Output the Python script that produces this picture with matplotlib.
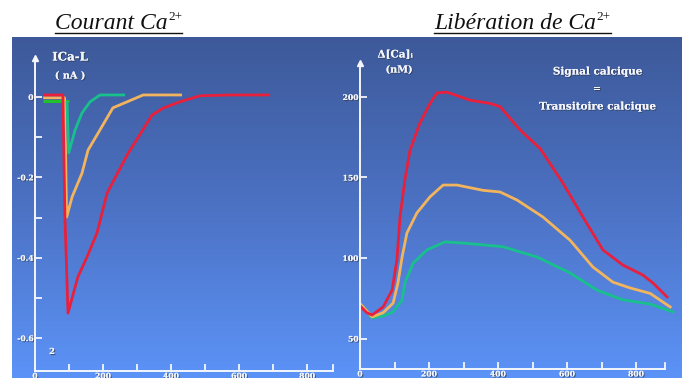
import numpy as np
import matplotlib
matplotlib.use('Agg')
import matplotlib.pyplot as plt
import matplotlib.patheffects as pe
from matplotlib.colors import LinearSegmentedColormap
from matplotlib.font_manager import FontProperties

W, H = 682, 378

# ---------------- data ----------------
# Left panel: ICa-L current (nA) vs time (ms)
cur_red_t = [24, 82, 88, 97, 126, 153, 182, 212, 271, 344, 376, 426, 485, 574, 691]
cur_red_v = [0.005, 0.005, -0.30, -0.538, -0.448, -0.398, -0.339, -0.239, -0.144,
             -0.045, -0.028, -0.012, 0.003, 0.005, 0.005]
cur_orange_t = [24, 87, 93, 109, 138, 156, 191, 229, 271, 318, 432]
cur_orange_v = [-0.002, -0.002, -0.299, -0.249, -0.19, -0.132, -0.082, -0.027, -0.012, 0.005, 0.005]
cur_green_t = [24, 100]
cur_green_v = [-0.01, -0.01]
cur_teal_t = [94, 99, 118, 138, 162, 191, 265]
cur_teal_v = [-0.01, -0.139, -0.082, -0.04, -0.012, 0.005, 0.005]

# Right panel: Delta[Ca]i (nM) vs time (ms)
ca_red_t = [3, 20, 35, 67, 93, 107, 116, 130, 145, 174, 203, 223, 252, 319, 377, 406,
            464, 522, 588, 646, 704, 762, 820, 849, 890]
ca_red_v = [69.6, 66, 64.6, 69.6, 80, 98.8, 125.5, 148.4, 167, 184, 196, 202.5, 203, 198,
            196, 194, 179.5, 168, 146.6, 125.5, 105, 95.6, 89.4, 84.5, 75.8]
ca_orange_t = [3, 35, 67, 96, 110, 122, 136, 165, 203, 241, 281, 357, 406, 455, 530, 609,
               675, 733, 783, 841, 899]
ca_orange_v = [71, 63.4, 66, 72, 84.5, 100.6, 115.5, 128, 138, 145.3, 145.3, 142, 141, 136,
               125.5, 111, 94.4, 85, 81.4, 78, 69.6]
ca_teal_t = [3, 35, 67, 96, 122, 130, 154, 194, 246, 299, 414, 513, 609, 687, 762, 841, 907]
ca_teal_v = [71, 62.7, 64, 66.5, 74, 84.5, 96.8, 105, 110, 109.3, 107, 100.6, 90.7, 80,
             74, 71.4, 66.5]

left_yticks = [0, -0.2, -0.4, -0.6]
left_yticklabels = ['0', '-0.2', '-0.4', '-0.6']
left_yminor = [-0.1, -0.3, -0.5]
xticks_major = [0, 200, 400, 600, 800]
xticklabels = ['0', '200', '400', '600', '800']
xticks_minor = [100, 300, 500, 700]
right_yticks = [50, 100, 150, 200]
right_yticklabels = ['50', '100', '150', '200']

RED = '#e8203c'
ORANGE = '#f2b45c'
TEAL = '#18c08c'
GREEN = '#22c02a'
WHITE = '#f4f6fb'

# ---------------- figure ----------------
fig = plt.figure(figsize=(W / 100, H / 100), dpi=100)
fig.patch.set_facecolor('white')


def fx(x):
    return x / W


def fy(y):
    return 1 - y / H


# gradient background
bg = fig.add_axes([fx(12), 0, (W - 12) / W, 341 / H])
grad = np.linspace(0, 1, 256).reshape(-1, 1)
cmap = LinearSegmentedColormap.from_list('bg', ['#3d5999', '#4c72c4', '#5c93f7'])
bg.imshow(grad, aspect='auto', cmap=cmap, extent=[0, 1, 0, 1], origin='upper')
bg.axis('off')

shadow = [pe.withSimplePatchShadow(offset=(0.8, -0.8), shadow_rgbFace='#303848', alpha=0.7),
          pe.Normal()]
tickfp = FontProperties(family='DejaVu Serif', weight='bold', size=5.5)


def style_axes(ax):
    ax.patch.set_visible(False)
    for s in ('top', 'right'):
        ax.spines[s].set_visible(False)
    for s in ('left', 'bottom'):
        ax.spines[s].set_color(WHITE)
        ax.spines[s].set_linewidth(1.4)
    ax.tick_params(which='both', direction='in', color=WHITE, width=1.3, length=5,
                   labelcolor=WHITE, pad=1.0)


# -------- left panel --------
axL = fig.add_axes([fx(35), fy(371), (333 - 35) / W, (371 - 58) / H])
style_axes(axL)
axL.set_xlim(0, 876)
axL.set_ylim(-0.682, 0.097)
axL.set_yticks(left_yticks)
axL.set_yticklabels(left_yticklabels)
axL.set_yticks(left_yminor, minor=True)
axL.set_xticks(xticks_major)
axL.set_xticklabels(xticklabels)
axL.set_xticks(xticks_minor, minor=True)
for lab in axL.get_xticklabels() + axL.get_yticklabels():
    lab.set_fontproperties(tickfp)
    lab.set_path_effects(shadow)

axL.plot(cur_green_t, cur_green_v, color=GREEN, lw=2.2, solid_capstyle='butt')
axL.plot(cur_orange_t, cur_orange_v, color=ORANGE, lw=2.0, solid_capstyle='butt')
axL.plot(cur_red_t, cur_red_v, color=RED, lw=2.0, solid_capstyle='butt')
axL.plot(cur_teal_t, cur_teal_v, color=TEAL, lw=2.0, solid_capstyle='butt')
axL.plot([0], [0.097], marker='^', ms=4, color=WHITE, clip_on=False)
axL.plot([876, 876], [-0.682, -0.682 + 6 / 401.7], color=WHITE, lw=1.3, clip_on=False)

# -------- right panel --------
axR = fig.add_axes([fx(360), fy(369), (665 - 360) / W, (369 - 63) / H])
style_axes(axR)
axR.set_xlim(0, 884)
axR.set_ylim(31.06, 221.1)
axR.set_yticks(right_yticks)
axR.set_yticklabels(right_yticklabels)
axR.set_xticks(xticks_major)
axR.set_xticklabels(xticklabels)
axR.set_xticks(xticks_minor, minor=True)
for lab in axR.get_xticklabels() + axR.get_yticklabels():
    lab.set_fontproperties(tickfp)
    lab.set_path_effects(shadow)

axR.plot(ca_teal_t, ca_teal_v, color=TEAL, lw=2.0, clip_on=False)
axR.plot(ca_orange_t, ca_orange_v, color=ORANGE, lw=2.0, clip_on=False)
axR.plot(ca_red_t, ca_red_v, color=RED, lw=2.0, clip_on=False)
axR.plot([0], [221.1], marker='^', ms=4, color=WHITE, clip_on=False)
axR.plot([884, 884], [31.06, 31.06 + 6 / 1.61], color=WHITE, lw=1.3, clip_on=False)

# -------- axis labels and annotations --------
lab_font = dict(family=['DejaVu Serif'], weight='bold', color=WHITE,
                ha='center', va='center', path_effects=shadow)
fig.text(fx(70), fy(57), 'ICa-L', size=8.5, **lab_font)
fig.text(fx(70), fy(76), '( nA )', size=7, **lab_font)
fig.text(fx(52), fy(352), '2', size=6, **lab_font)
fig.text(fx(395), fy(55), 'Δ[Ca]ᵢ', size=7.5, **lab_font)
fig.text(fx(399), fy(70), '(nM)', size=7, **lab_font)
fig.text(fx(597), fy(72), 'Signal calcique', size=7.5, **lab_font)
fig.text(fx(597), fy(89), '=', size=7.5, **lab_font)
fig.text(fx(597), fy(107), 'Transitoire calcique', size=7.5, **lab_font)

# -------- titles (italic, underlined, with superscript) --------
renderer = fig.canvas.get_renderer()


def title(x_left, text):
    t = fig.text(fx(x_left), fy(29), text, size=17, style='italic',
                 family='Liberation Serif', color='#111111', ha='left', va='baseline')
    bb = t.get_window_extent(renderer)
    x_end = bb.x1 / fig.dpi / fig.get_figwidth()
    s = fig.text(x_end + 0.5 / W, fy(20), '2+', size=9.5, family='Liberation Serif',
                 color='#111111', ha='left', va='baseline')
    bb2 = s.get_window_extent(renderer)
    x_end2 = bb2.x1 / fig.dpi / fig.get_figwidth()
    fig.add_artist(plt.Line2D([fx(x_left), x_end2], [fy(32.5), fy(32.5)],
                              color='#111111', lw=1.0, transform=fig.transFigure))


title(55, 'Courant Ca')
title(434, 'Libération de Ca')

fig.savefig('out.png', dpi=100)
